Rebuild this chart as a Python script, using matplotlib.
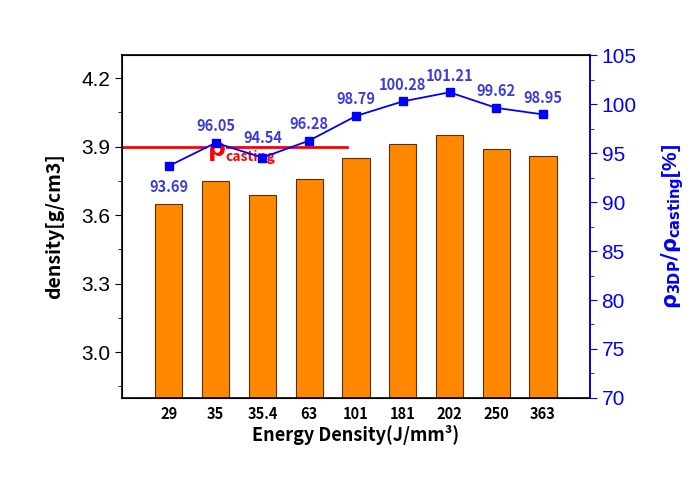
import matplotlib
matplotlib.use('Agg')
import matplotlib.pyplot as plt
from matplotlib.ticker import MultipleLocator

plt.rcParams['font.family'] = ['Liberation Sans', 'DejaVu Sans']
plt.rcParams['mathtext.fontset'] = 'custom'
plt.rcParams['mathtext.rm'] = 'DejaVu Sans'
plt.rcParams['mathtext.it'] = 'DejaVu Sans:bold'
plt.rcParams['mathtext.bf'] = 'DejaVu Sans:bold'

energy = ['29', '35', '35.4', '63', '101', '181', '202', '250', '363']
density = [3.65, 3.75, 3.69, 3.76, 3.85, 3.91, 3.95, 3.89, 3.86]
ratio = [93.69, 96.05, 94.54, 96.28, 98.79, 100.28, 101.21, 99.62, 98.95]
casting = 3.9

blue = '#0000ff'
lblue = '#3c3cdc'
kr = ['Noto Sans CJK KR', 'DejaVu Sans']

fig = plt.figure(figsize=(6.98, 4.8), dpi=100)
ax = fig.add_axes([0.175, 0.171, 0.67, 0.714])
x = list(range(1, len(energy) + 1))

ax.bar(x, density, width=0.58, color='#ff8800', edgecolor='#5a3000', linewidth=0.8, zorder=2)
ax.plot([0, 4.8], [casting, casting], color='red', lw=2, zorder=3)
# rho_casting label: big rho, small subscript
ax.text(1.82, casting - 0.02, r'$\rho$', color='red', fontsize=18, va='center',
        ha='left', zorder=4, bbox=dict(facecolor='white', edgecolor='none', pad=0))
ax.text(2.2, casting - 0.045, 'casting', color='red', fontsize=10, fontweight='bold',
        family=kr, va='center', ha='left', zorder=4,
        bbox=dict(facecolor='white', edgecolor='none', pad=0))

ax.set_xlim(0, 10)
ax.set_ylim(2.8, 4.3)
ax.set_xticks(x)
ax.set_xticklabels(energy, fontsize=10.5, fontweight='bold', family=kr)
ax.tick_params(axis='x', length=0, pad=6)
ax.yaxis.set_major_locator(MultipleLocator(0.3))
ax.yaxis.set_minor_locator(MultipleLocator(0.15))
ax.tick_params(axis='y', which='major', labelsize=15, length=5, direction='out')
ax.tick_params(axis='y', which='minor', length=3, direction='out')
ax.set_yticks([3.0, 3.3, 3.6, 3.9, 4.2])
ax.set_xlabel('Energy Density(J/mm³)', fontsize=13, fontweight='bold', family=kr, labelpad=2)
ax.set_ylabel('density[g/cm3]', fontsize=14, fontweight='bold', family=kr, labelpad=12)
for s in ax.spines.values():
    s.set_linewidth(1.2)

ax2 = ax.twinx()
ax2.plot(x, ratio, color=blue, marker='s', markersize=6, lw=1.3, zorder=5)
for i, (xi, r) in enumerate(zip(x, ratio)):
    dy = -15 if i == 0 else (14 if i == 2 else 12)
    ax2.annotate(f'{r:.2f}', (xi, r), xytext=(0, dy), textcoords='offset points',
                 ha='center', va='center', color=lblue, fontsize=10.5, fontweight='bold', family=kr)
ax2.set_ylim(70, 105)
ax2.yaxis.set_major_locator(MultipleLocator(5))
ax2.yaxis.set_minor_locator(MultipleLocator(2.5))
ax2.tick_params(axis='y', which='major', labelsize=15, length=5, colors=blue)
ax2.tick_params(axis='y', which='minor', length=3, colors=blue)
ax2.spines['right'].set_color(blue)
ax2.spines['right'].set_linewidth(1.2)
ax2.set_ylabel(r'$\mathbf{\rho_{3DP}/\rho_{casting}}$[%]', color=blue, fontsize=15,
               fontweight='bold', labelpad=16)

fig.savefig('out.png', dpi=100)
